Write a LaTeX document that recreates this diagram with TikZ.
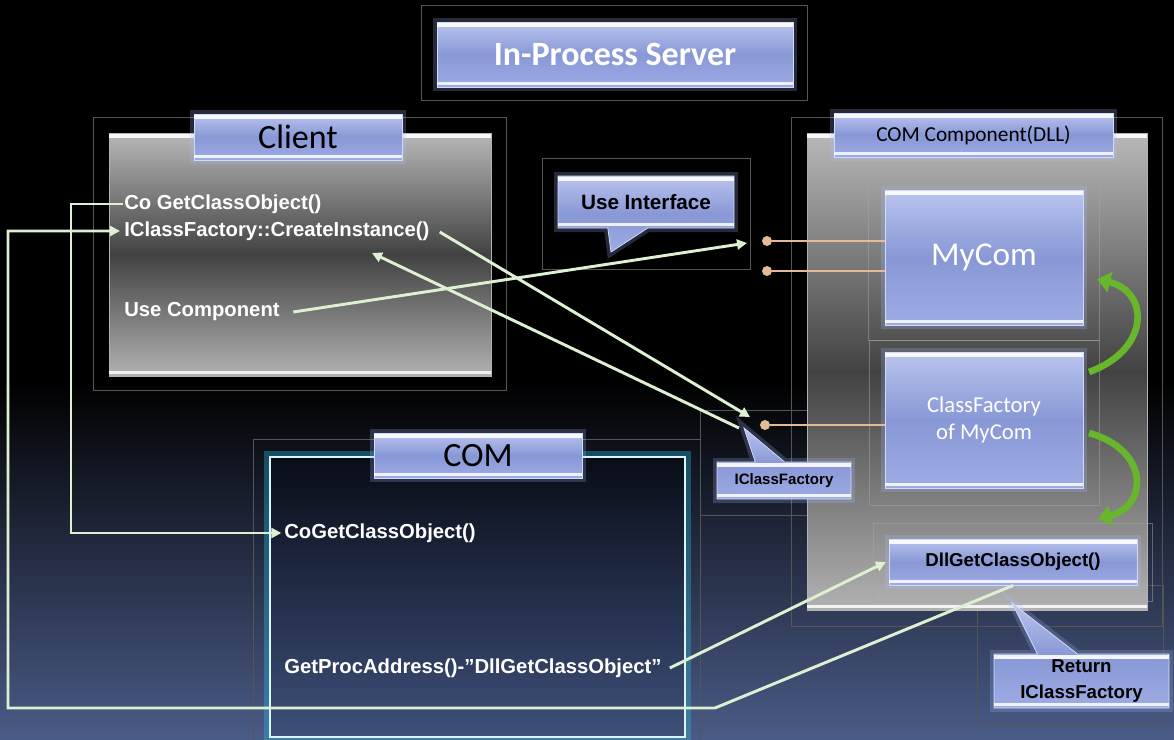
\documentclass[tikz,border=0pt]{standalone}
\usepackage{fontspec}
\setmainfont{Liberation Sans}
\newfontfamily\calfont{Carlito}
\usetikzlibrary{shapes.callouts,arrows.meta,calc}
\definecolor{lineg}{RGB}{222,240,210}
\definecolor{tanc}{RGB}{226,188,152}
\definecolor{bluetop}{RGB}{186,196,238}
\definecolor{bluemid}{RGB}{136,152,214}
\definecolor{bluebot}{RGB}{158,172,228}
\definecolor{blueedge}{RGB}{210,218,250}
\definecolor{glowc}{RGB}{170,190,255}
\definecolor{framec}{RGB}{85,85,85}
\definecolor{bgbot}{RGB}{74,91,135}
\definecolor{cyanglow}{RGB}{40,190,230}
\definecolor{cyanedge}{RGB}{220,246,255}
\definecolor{comtop}{RGB}{8,12,22}
\definecolor{combot}{RGB}{62,80,122}
\definecolor{greenarr}{RGB}{104,182,44}
\definecolor{graytop}{RGB}{184,184,184}
\definecolor{graymid}{RGB}{66,66,66}
\definecolor{graybot}{RGB}{178,178,178}
\newcommand\bevelbands[1]{%
  \fill[white,opacity=0.9] ([yshift=-1.2pt]#1.north west) rectangle ([yshift=-4.2pt]#1.north east);
  \fill[white,opacity=0.85] ([yshift=1.5pt]#1.south west) rectangle ([yshift=4.2pt]#1.south east);}
\tikzset{
  pbox/.style n args={4}{minimum width={(#3-#1)*0.75pt}, minimum height={(#4-#2)*0.75pt},
     at={({(#1+#3)/2},{(#2+#4)/2})}},
  thinframe/.style={draw=framec, line width=0.5pt},
  bluebox/.style={inner sep=0pt, top color=bluetop, bottom color=bluebot, middle color=bluemid,
     draw=blueedge, line width=0.6pt, preaction={draw=glowc, line width=6pt, opacity=0.22}},
  graybox/.style={inner sep=0pt, top color=graytop, bottom color=graybot, middle color=graymid,
     draw=gray!60, line width=0.5pt},
  wtext/.style={text=white, font=\bfseries\fontsize{15.2}{18}\selectfont, inner sep=0pt, anchor=west},
  btext/.style={text=black, font=\bfseries\fontsize{#1}{19}\selectfont},
  conn/.style={draw=lineg, line width=2.2pt, -{Triangle[length=7.5pt,width=7.5pt]}},
  tanline/.style={draw=tanc, line width=2.2pt},
  tandot/.style={circle, fill=tanc, inner sep=0pt, minimum size=7.5pt},
  garrow/.style={draw=greenarr, line width=5pt, -{Triangle[length=10pt,width=15pt]}},
}
\begin{document}
\begin{tikzpicture}[x=0.75pt,y=-0.75pt]
\useasboundingbox (0,0) rectangle (1174,739);
% background
\fill[black] (0,0) rectangle (1174,739);
\shade[top color=black, bottom color=bgbot] (0,380) rectangle (1174,739);

% faint frames
\draw[thinframe] (421,5) rectangle (807,100);
\draw[thinframe] (93,117) rectangle (506,390);
\draw[thinframe] (542,158) rectangle (750,269);
\draw[thinframe] (253,745) -- (253,439) -- (700,439) -- (700,745);
\draw[thinframe] (791,117) rectangle (1162,626);
\draw[thinframe] (700,410) rectangle (867,515);
\draw[thinframe] (977,585) rectangle (1163,724);

% title
\node[bluebox, pbox={437}{22}{793}{87}, text=white, font=\calfont\bfseries\fontsize{25.5}{30}\selectfont] (title) {In-Process Server};
\bevelbands{title}

% client
\node[graybox, pbox={109}{133}{491}{376}] (client) {};
\bevelbands{client}
\node[bluebox, pbox={194}{114}{402}{160}, font=\calfont\fontsize{25.5}{30}\selectfont] (clientlbl) {Client};
\bevelbands{clientlbl}

% COM component
\node[graybox, pbox={807}{133}{1147}{610}] (dllbox) {};
\bevelbands{dllbox}
\draw[thinframe, draw=gray!70, opacity=0.5] (868,173) rectangle (1099,340);
\draw[thinframe, draw=gray!70, opacity=0.5] (869,340) rectangle (1099,505);
\draw[thinframe, draw=gray!70, opacity=0.5] (873,523) rectangle (1152,601);
\node[bluebox, pbox={834}{113}{1113}{157}, font=\calfont\fontsize{16}{20}\selectfont] (dlllbl) {COM Component(DLL)};
\bevelbands{dlllbl}
\node[bluebox, pbox={885}{190}{1083}{325}, text=white, font=\calfont\fontsize{25}{30}\selectfont] (mycom) {MyCom};
\bevelbands{mycom}
\node[bluebox, pbox={885}{352}{1083}{488}, text=white, align=center, font=\calfont\fontsize{17}{20}\selectfont] (cf) {ClassFactory\\of MyCom};
\bevelbands{cf}
\node[bluebox, pbox={889}{539}{1137}{585}, btext=14] (dll) {DllGetClassObject()};
\bevelbands{dll}

% COM
\node[inner sep=0pt, pbox={270}{457}{685}{737}, top color=comtop, bottom color=combot,
      draw=cyanedge, line width=2.2pt, preaction={draw=cyanglow, line width=9pt, opacity=0.35}] (com) {};
\node[bluebox, pbox={374}{433}{582}{478}, font=\calfont\fontsize{25.5}{30}\selectfont] (comlbl) {COM};
\bevelbands{comlbl}

% callouts
\coordinate (uitip) at (611,252);
\node[bluebox, rectangle callout, callout absolute pointer={(uitip)}, callout pointer width=30pt,
      pbox={558}{176}{734}{228}, btext=15.5] (ui) {Use Interface};
\bevelbands{ui}
\coordinate (icftip) at (744,428);
\node[bluebox, rectangle callout, callout absolute pointer={(icftip)}, callout pointer width=22pt,
      pbox={717}{462}{851}{499}, btext=11.3] (icf) {IClassFactory};
\bevelbands{icf}
\coordinate (rettip) at (1012,603);
\node[bluebox, rectangle callout, callout absolute pointer={(rettip)}, callout pointer width=30pt,
      pbox={994}{654}{1169}{708}, btext=14, align=center] (ret) {Return\\IClassFactory};
\bevelbands{ret}

% texts
\node[wtext] (t1) at (124,204) {Co GetClassObject()};
\node[wtext] (t2) at (124,231) {IClassFactory::CreateInstance()};
\node[wtext] (t3) at (124,312) {Use Component};
\node[wtext] (t4) at (284,533) {CoGetClassObject()};
\node[wtext] (t5) at (284,668) {GetProcAddress()-”DllGetClassObject”};

% tan interface lollipops
\node[tandot] (d1) at (767,241) {};
\node[tandot] (d2) at (767,271) {};
\node[tandot] (d3) at (765,425) {};
\draw[tanline] (d1) -- (d1 -| mycom.west);
\draw[tanline] (d2) -- (d2 -| mycom.west);
\draw[tanline] (d3) -- (d3 -| cf.west);

% green arrows
\draw[garrow] (1089,372) .. controls (1150,350) and (1150,292) .. (1097,279);
\draw[garrow] (1089,433) .. controls (1150,450) and (1148,506) .. (1098,519);

% connectors
\coordinate (c1) at (71,400);
\draw[conn] ([xshift=-1pt]t1.west) -| (c1) |- ([xshift=-2pt]t4.west);
\coordinate (c2) at (715,708);
\coordinate (c3) at (8,708);
\draw[conn] (dll.south) -- (c2) -- (c3) |- ([xshift=-3pt]t2.west);
\draw[conn] ([xshift=6pt]t5.east) -- ([xshift=-2pt]dll.west);
\coordinate (ciend) at (750,417);
\draw[conn] ([shift={(10,1)}]t2.east) -- (ciend);
\coordinate (cistart) at (739,428);
\coordinate (citarget) at (372,253);
\draw[conn] (cistart) -- (citarget);
\coordinate (ucend) at (747,243);
\draw[conn] ([xshift=10pt]t3.east) -- (ucend);
\end{tikzpicture}
\end{document}
